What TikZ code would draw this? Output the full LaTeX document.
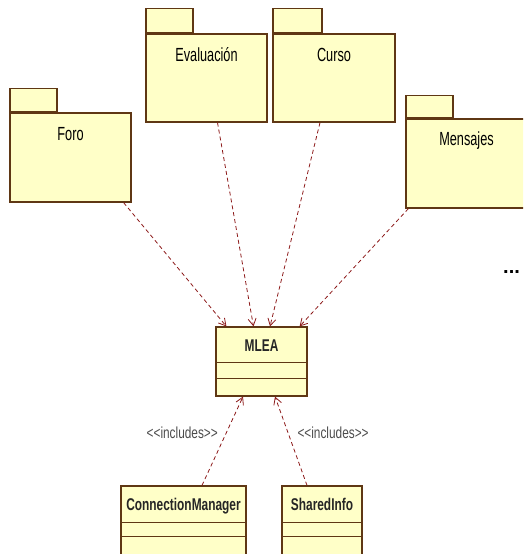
\documentclass[tikz,border=0pt]{standalone}
\usepackage{fontspec}
\setmainfont{Liberation Sans}
\newfontfamily\umlfont[FakeStretch=0.74]{Liberation Sans}
\newfontfamily\pkgfont[FakeStretch=0.67]{Liberation Sans}
\newfontfamily\clsfont[FakeStretch=0.70]{Liberation Sans}
\usetikzlibrary{arrows.meta}

\definecolor{umlfill}{RGB}{255,255,200}
\definecolor{umlborder}{RGB}{95,55,20}
\definecolor{deparrow}{RGB}{140,25,25}

\begin{document}
\begin{tikzpicture}[
    x=1pt, y=-1pt,
    pkgbody/.style={rectangle, draw=umlborder, fill=umlfill, line width=1.2pt, minimum width=121pt, minimum height=89pt, inner sep=0pt},
    pkgtab/.style={rectangle, draw=umlborder, fill=umlfill, line width=1.2pt, minimum width=47pt, minimum height=23pt, inner sep=0pt, anchor=south west},
    pkgname/.style={anchor=center, yshift=-22pt, inner sep=0pt, text height=13pt, text depth=0pt, font=\pkgfont\fontsize{19}{19}\selectfont},
    classbox/.style={rectangle, draw=umlborder, fill=umlfill, line width=1.2pt, minimum height=69pt, inner sep=0pt},
    classname/.style={inner sep=0pt, text height=12pt, text depth=0pt, text=black!85, font=\clsfont\bfseries\fontsize{17}{17}\selectfont},
    classline/.style={draw=umlborder, line width=1.2pt},
    deparrow/.style={draw=deparrow, line width=0.8pt, dash pattern=on 4pt off 3pt, -{Straight Barb[length=7pt, width=8pt]}},
    includes/.style={inner sep=0pt, text=black!70, font=\umlfont\fontsize{16}{16}\selectfont}
]
\useasboundingbox (0,0) rectangle (523,554);
\clip (0,0) rectangle (523,554);

% Packages
\node[pkgbody, label={[pkgname]north:Foro}] (foro) at (70.5,157.5) {};
\node[pkgtab] (forotab) at (foro.north west) {};

\node[pkgbody, minimum height=88pt, label={[pkgname]north:Evaluación}] (eval) at (206.5,78) {};
\node[pkgtab, minimum height=24pt] (evaltab) at (eval.north west) {};

\node[pkgbody, minimum width=122pt, minimum height=88pt, label={[pkgname]north:Curso}] (curso) at (334,78) {};
\node[pkgtab, minimum height=24pt, minimum width=49pt] (cursotab) at (curso.north west) {};

\node[pkgbody, label={[pkgname, yshift=1pt]north:Mensajes}] (mensajes) at (466.5,163.5) {};
\node[pkgtab, minimum height=22pt] (mensajestab) at (mensajes.north west) {};

\node[font=\bfseries\fontsize{20}{20}\selectfont, anchor=west, inner sep=0pt] (more) at (503,272) {...};

% Classes
\node[classbox, minimum width=91pt] (mlea) at (261.5,361.5) {};
\node[classname] (mleaname) at (261.5,345) {MLEA};
\draw[classline] ([yshift=-36pt]mlea.north west) -- ([yshift=-36pt]mlea.north east);
\draw[classline] ([yshift=-52pt]mlea.north west) -- ([yshift=-52pt]mlea.north east);

\node[classbox, minimum width=125pt] (cm) at (183.5,520.5) {};
\node[classname] (cmname) at (183.5,504) {ConnectionManager};
\draw[classline] ([yshift=-37pt]cm.north west) -- ([yshift=-37pt]cm.north east);
\draw[classline] ([yshift=-51pt]cm.north west) -- ([yshift=-51pt]cm.north east);

\node[classbox, minimum width=80pt] (si) at (322,520.5) {};
\node[classname] (siname) at (322,504) {SharedInfo};
\draw[classline] ([yshift=-37pt]si.north west) -- ([yshift=-37pt]si.north east);
\draw[classline] ([yshift=-51pt]si.north west) -- ([yshift=-51pt]si.north east);

% Dependencies
\draw[deparrow] ([xshift=-8pt]foro.south east) -- ([xshift=11pt]mlea.north west);
\draw[deparrow] ([xshift=11pt]eval.south) -- ([xshift=-8pt]mlea.north);
\draw[deparrow] ([xshift=-14pt]curso.south) -- ([xshift=8.5pt]mlea.north);
\draw[deparrow] ([xshift=3pt]mensajes.south west) -- ([xshift=-8pt]mlea.north east);

\draw[deparrow] ([xshift=18.5pt]cm.north) -- node[includes, pos=0.59, left=8pt] (incl1) {<{}<includes>{}>} ([xshift=-18.5pt]mlea.south);
\draw[deparrow] ([xshift=-15pt]si.north) -- node[includes, pos=0.59, right=9pt] (incl2) {<{}<includes>{}>} ([xshift=13.5pt]mlea.south);

\end{tikzpicture}
\end{document}
